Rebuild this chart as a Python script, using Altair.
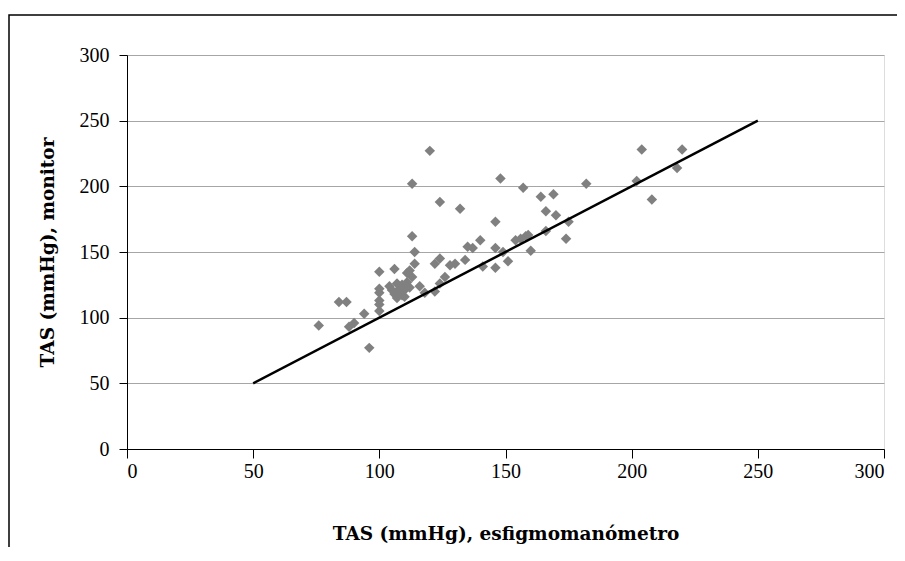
import altair as alt
import pandas as pd

# TAS esfigmomanómetro (x) vs TAS monitor (y), mmHg
esfig = [76, 84, 87, 88, 90, 94, 96,
         100, 100, 100, 100, 100, 100,
         104, 105, 106, 106, 107, 107, 108, 108, 109, 109, 110, 110, 111, 111,
         112, 112, 113, 113, 113, 114, 114, 116, 118, 120, 122, 122, 124, 124,
         124, 126, 128, 130, 132, 134, 135, 137, 140, 141, 146, 146, 146, 148,
         149, 151, 154, 156, 157, 158, 159, 160, 164, 166, 166, 169, 170, 174,
         175, 182, 202, 204, 208, 218, 220]
monitor = [94, 112, 112, 93, 96, 103, 77,
           135, 122, 119, 113, 110, 105,
           124, 121, 137, 118, 126, 115, 122, 119, 125, 117, 121, 116, 127, 134,
           123, 136, 131, 202, 162, 150, 141, 124, 119, 227, 120, 141, 126, 145,
           188, 131, 140, 141, 183, 144, 154, 153, 159, 139, 173, 153, 138, 206,
           150, 143, 159, 160, 199, 162, 163, 151, 192, 181, 166, 194, 178, 160,
           173, 202, 204, 228, 190, 214, 228]

line_x = [50, 250]
line_y = [50, 250]

ticks = [0, 50, 100, 150, 200, 250, 300]

df = pd.DataFrame({"x": esfig, "y": monitor})
ldf = pd.DataFrame({"x": line_x, "y": line_y})

LFONT = "Liberation Serif"
TFONT = "DejaVu Serif"

xscale = alt.Scale(domain=[0, 300], nice=False, zero=True)
yscale = alt.Scale(domain=[0, 300], nice=False, zero=True)

xaxis = alt.Axis(values=ticks, title="TAS (mmHg), esfigmomanómetro", grid=False,
                 tickSize=9, tickColor="black", domainColor="black",
                 labelFont=LFONT, labelFontSize=20, labelColor="black", labelPadding=3,
                 titleFont=TFONT, titleFontSize=18.5, titleFontWeight="bold", titleColor="black",
                 titleY=84, titleBaseline="middle")
yaxis = alt.Axis(values=ticks, title="TAS (mmHg), monitor", grid=True,
                 gridColor="#a6a6a6", gridWidth=1,
                 tickSize=8, tickColor="black", domainColor="black",
                 labelFont=LFONT, labelFontSize=20, labelColor="black", labelPadding=10,
                 titleFont=TFONT, titleFontSize=18.5, titleFontWeight="bold", titleColor="black",
                 titleX=-80, titleBaseline="middle")

points = alt.Chart(df).mark_point(shape="diamond", filled=True, color="#808080",
                                  size=110, opacity=1).encode(
    x=alt.X("x:Q", scale=xscale, axis=xaxis),
    y=alt.Y("y:Q", scale=yscale, axis=yaxis),
)

line = alt.Chart(ldf).mark_line(color="black", strokeWidth=2.5).encode(
    x=alt.X("x:Q", scale=xscale),
    y=alt.Y("y:Q", scale=yscale),
)

border = alt.Chart(pd.DataFrame({"a": [0]})).mark_rect(
    filled=False, stroke="black", strokeWidth=1.5
).encode(
    x=alt.value(-118), x2=alt.value(900), y=alt.value(-40), y2=alt.value(700)
)

chart = alt.layer(points, line, border).properties(
    width=757, height=394,
    padding={"left": 119, "top": 47, "right": 13, "bottom": 98},
    autosize="none",
).configure_view(stroke="#8c8c8c", strokeWidth=1).configure(background="white")

chart.save("out.html", embed_options={"renderer": "svg", "actions": False})
